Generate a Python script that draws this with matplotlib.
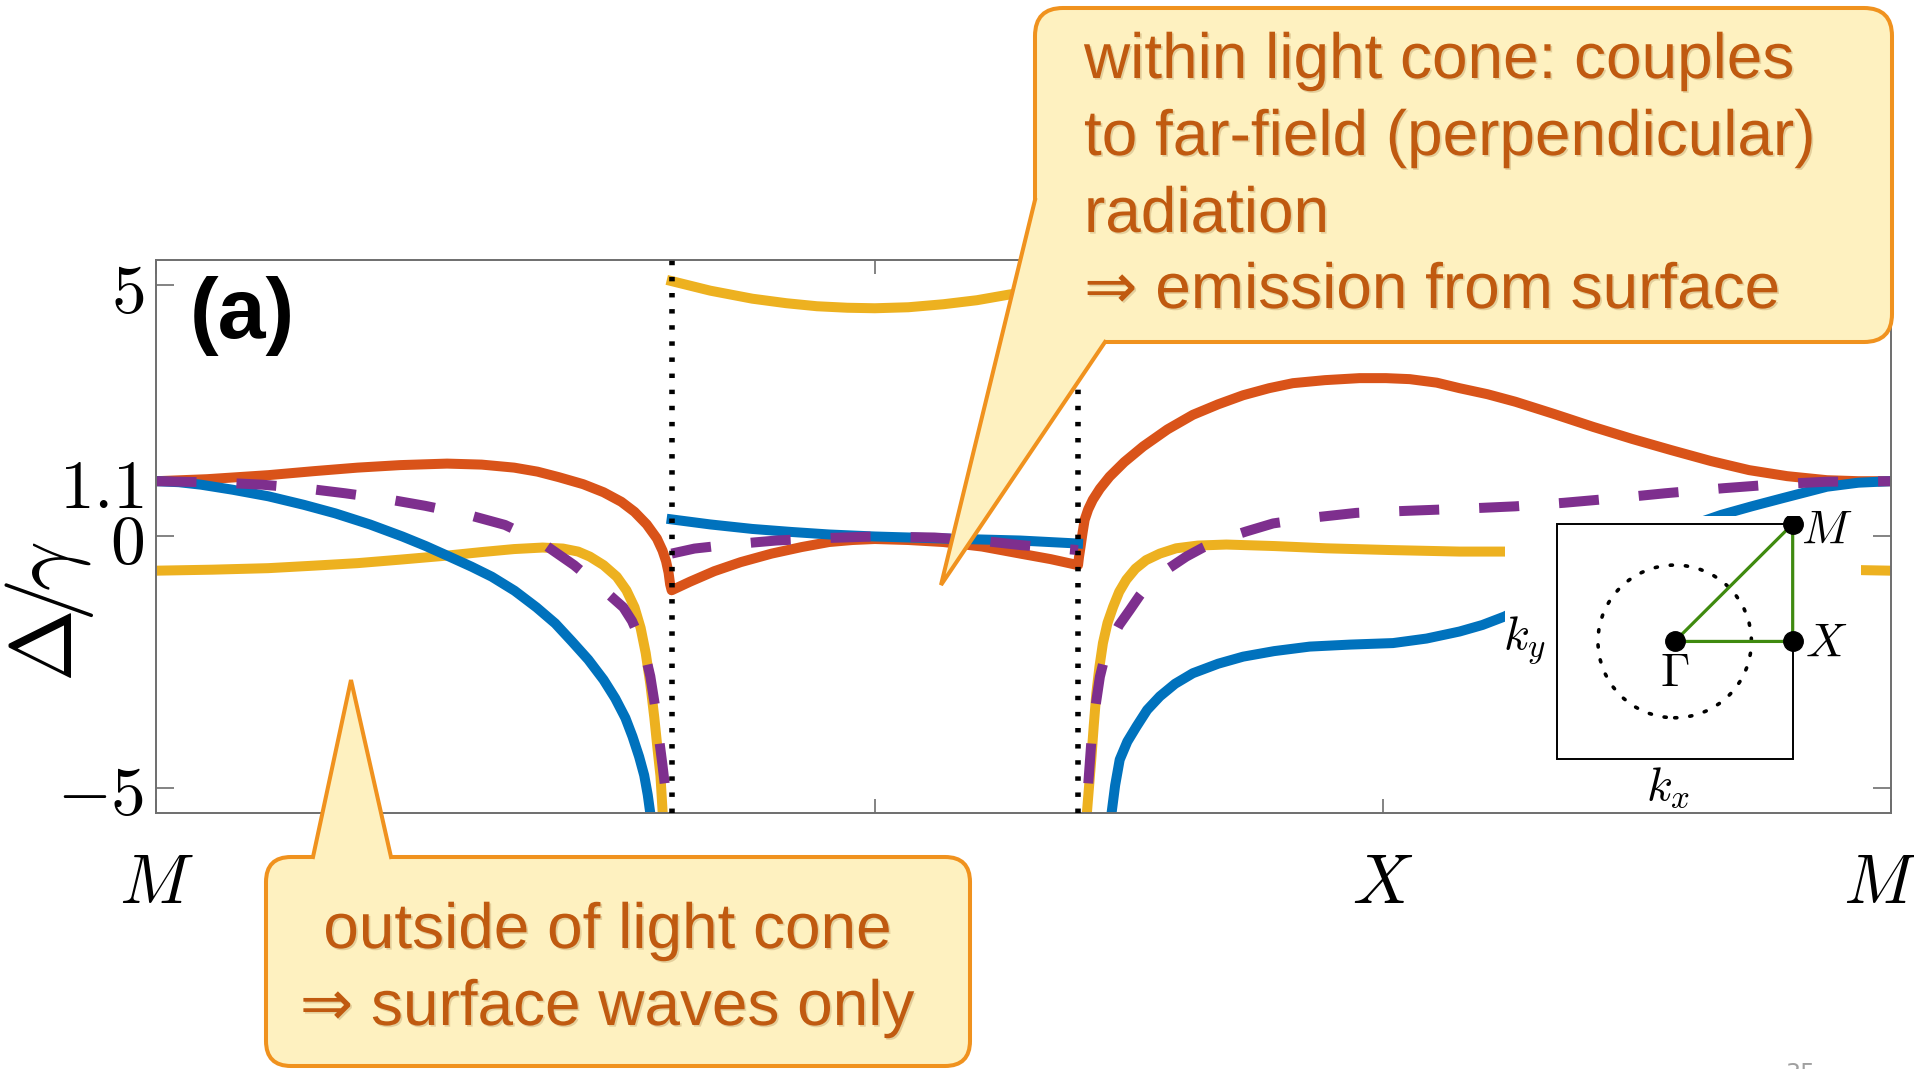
import numpy as np
import matplotlib
matplotlib.use('Agg')
import matplotlib.pyplot as plt
import matplotlib.transforms as mtransforms
from matplotlib.patches import FancyBboxPatch, Polygon, Rectangle, Circle
from matplotlib import patheffects

plt.rcParams['mathtext.fontset'] = 'cm'

# ---------------- band structure ----------------
# k along M -> Gamma -> X -> M (units of pi/a), Delta/gamma on y
k_gamma = np.sqrt(2)
k_xpt = np.sqrt(2) + 1
k_end = np.sqrt(2) + 2
k_light = 0.4

tick_pos = [0, k_gamma, k_xpt, k_end]
tick_names = ['$M$', r'$\Gamma$', '$X$', '$M$']
ytick_pos = [-5, 0, 1.1, 5]
ytick_names = ['$-5$', '$0$', '$1.1$', '$5$']

nan = np.nan

red_k = [0, 0.1, 0.22, 0.31, 0.396, 0.48, 0.572, 0.64, 0.704, 0.75, 0.792, 0.84, 0.88, 0.915,
         0.941, 0.965, 0.985, 0.996, 1.003, 1.008, 1.011, 1.014,
         1.05, 1.098, 1.15, 1.211, 1.27, 1.324, 1.37, 1.414, 1.48, 1.549, 1.625, 1.7, 1.76, 1.814,
         1.816, 1.819, 1.823, 1.827, 1.834, 1.843, 1.857, 1.876, 1.905, 1.942, 1.99, 2.040,
         2.09, 2.139, 2.19, 2.237, 2.30, 2.368, 2.42, 2.467, 2.52, 2.565, 2.62, 2.675, 2.75,
         2.828, 2.905, 2.981, 3.06, 3.135, 3.21, 3.288, 3.35, 3.414]
red_d = [1.1, 1.14, 1.22, 1.3, 1.37, 1.42, 1.45, 1.43, 1.37, 1.29, 1.18, 1.04, 0.88, 0.69,
         0.49, 0.24, -0.04, -0.28, -0.49, -0.72, -0.95, -1.07,
         -0.9, -0.69, -0.51, -0.34, -0.21, -0.11, -0.07, -0.05, -0.07, -0.11, -0.2, -0.34, -0.45, -0.57,
         -0.4, -0.2, 0.08, 0.33, 0.54, 0.73, 0.95, 1.19, 1.48, 1.79, 2.13, 2.42,
         2.63, 2.81, 2.95, 3.05, 3.11, 3.15, 3.15, 3.13, 3.06, 2.95, 2.83, 2.68, 2.44,
         2.18, 1.94, 1.72, 1.5, 1.32, 1.2, 1.12, 1.1, 1.1]

yellow_k = [0, 0.11, 0.22, 0.31, 0.396, 0.48, 0.572, 0.64, 0.704, 0.76, 0.8, 0.83, 0.853, 0.88,
            0.906, 0.925, 0.941, 0.953, 0.963, 0.972, 0.98, 0.986, 0.992, 0.997, 1.002, nan,
            1.014, 1.09, 1.173, 1.24, 1.3, 1.36, 1.414, 1.48, 1.549, 1.615, 1.677, 1.75, 1.814, nan,
            1.826, 1.833, 1.840, 1.845, 1.850, 1.856, 1.863, 1.872, 1.883, 1.895, 1.909, 1.927,
            1.948, 1.975, 2.007, 2.05, 2.106, 2.2, 2.303, 2.43, 2.565, 2.654,
            2.8, 3.0, 3.2, 3.36, 3.414]
yellow_d = [-0.68, -0.66, -0.63, -0.58, -0.53, -0.46, -0.38, -0.31, -0.25, -0.22, -0.24, -0.3, -0.4, -0.57,
            -0.8, -1.07, -1.41, -1.82, -2.32, -2.93, -3.61, -4.2, -4.76, -5.6, -6.5, nan,
            5.08, 4.89, 4.73, 4.64, 4.58, 4.55, 4.54, 4.56, 4.62, 4.7, 4.81, 4.93, 5.05, nan,
            -6.2, -5.3, -4.44, -3.75, -3.12, -2.6, -2.12, -1.72, -1.40, -1.1, -0.86, -0.64,
            -0.47, -0.34, -0.235, -0.18, -0.16, -0.19, -0.235, -0.27, -0.30, -0.30,
            -0.38, -0.5, -0.62, -0.67, -0.68]

blue_k = [0, 0.044, 0.088, 0.15, 0.22, 0.29, 0.352, 0.42, 0.484, 0.53, 0.572, 0.62, 0.66, 0.705,
          0.748, 0.785, 0.818, 0.85, 0.88, 0.903, 0.923, 0.937, 0.95, 0.96, 0.967, 0.976, nan,
          1.014, 1.09, 1.173, 1.25, 1.324, 1.414, 1.549, 1.7, 1.814, nan,
          1.874, 1.880, 1.887, 1.896, 1.911, 1.929, 1.95, 1.975, 2.005, 2.040, 2.09, 2.139,
          2.2, 2.270, 2.35, 2.434, 2.50, 2.565, 2.61, 2.654,
          2.75, 2.9, 3.0, 3.08, 3.14, 3.2, 3.288, 3.35, 3.414]
blue_d = [1.1, 1.08, 1.03, 0.93, 0.8, 0.63, 0.46, 0.24, 0.0, -0.19, -0.38, -0.6, -0.8, -1.08,
          -1.41, -1.73, -2.09, -2.45, -2.85, -3.22, -3.61, -3.98, -4.38, -4.75, -5.14, -5.8, nan,
          0.34, 0.24, 0.15, 0.09, 0.04, 0.0, -0.04, -0.08, -0.14, nan,
          -6.0, -5.5, -4.95, -4.44, -4.08, -3.78, -3.45, -3.18, -2.93, -2.72, -2.53, -2.39,
          -2.28, -2.19, -2.15, -2.12, -2.03, -1.89, -1.76, -1.59,
          -1.1, -0.3, 0.15, 0.43, 0.6, 0.76, 0.99, 1.07, 1.1]

purple_k = [0, 0.048, 0.13, 0.209, 0.29, 0.371, 0.45, 0.529, 0.61, 0.686, 0.755, 0.822, 0.87,
            0.919, 0.936, 0.95, 0.962, 0.972, 0.981, 0.989, 0.996, 1.003, 1.008, nan,
            1.014, 1.059, 1.14, 1.22, 1.32, 1.414, 1.531, 1.62, 1.70, 1.814, nan,
            1.826, 1.830, 1.840, 1.848, 1.857, 1.866, 1.876, 1.895, 1.916, 1.935, 1.955, 1.99,
            2.027, 2.06, 2.093, 2.145, 2.198, 2.28, 2.362, 2.46, 2.565, 2.675, 2.77, 2.86,
            2.97, 3.084, 3.19, 3.288, 3.414]
purple_d = [1.1, 1.09, 1.07, 1.03, 0.96, 0.86, 0.75, 0.61, 0.44, 0.23, -0.1, -0.57, -0.97,
            -1.41, -1.68, -2.0, -2.35, -2.78, -3.35, -4.0, -4.55, -5.14, -6.0, nan,
            -0.34, -0.24, -0.15, -0.08, -0.03, 0.0, -0.02, -0.08, -0.17, -0.27, nan,
            -6.5, -5.5, -4.1, -3.4, -2.79, -2.42, -2.12, -1.76, -1.46, -1.18, -0.93, -0.65,
            -0.40, -0.22, -0.07, 0.1, 0.26, 0.38, 0.47, 0.51, 0.55, 0.6, 0.67, 0.75,
            0.86, 0.96, 1.04, 1.09, 1.1]

top_lines = ['within light cone: couples', 'to far-field (perpendicular)', 'radiation',
             '\u21d2 emission from surface']
bottom_lines = ['outside of light cone', '\u21d2 surface waves only']

# ---------------- figure ----------------
fig = plt.figure(figsize=(19.15, 10.69), dpi=100)
ax = fig.add_axes([0.08172, 0.23948, 0.90574, 0.51731])

lw = 7.2
ax.plot(red_k, red_d, color='#D95319', lw=lw)
ax.plot(yellow_k, yellow_d, color='#EDB120', lw=lw)
ax.plot(blue_k, blue_d, color='#0072BD', lw=lw)
ax.plot(purple_k, purple_d, color='#7E2F8E', lw=lw, ls=(0, (4.0, 4.0)))

# light lines
for kk in (k_gamma - k_light, k_gamma + k_light):
    ax.axvline(kk, color='black', lw=4.0, ls=(0, (0.8, 2.1)), zorder=3)

ax.set_xlim(0, k_end)
ax.set_ylim(-5.5, 5.5)
ax.set_xticks(tick_pos)
ax.set_xticklabels(tick_names)
ax.set_yticks(ytick_pos)
ax.set_yticklabels(ytick_names)
for s in ax.spines.values():
    s.set_color('#6e6e6e')
    s.set_linewidth(1.4)
ax.tick_params(which='both', direction='in', top=True, right=True, color='#6e6e6e',
               width=1.2, labelsize=50)
ax.tick_params(axis='x', length=10, pad=27)
ax.tick_params(axis='y', length=13, pad=9)

# last M label sits a little inside the picture edge
lab = ax.get_xticklabels()[-1]
lab.set_transform(lab.get_transform() + mtransforms.ScaledTranslation(-0.11, 0, fig.dpi_scale_trans))

ax.set_ylabel(r'$\Delta\!/\!\gamma$', fontsize=63)
ax.yaxis.set_label_coords(-0.035, 0.363)

ax.text(0.0193, 0.8987, '(a)', transform=ax.transAxes, ha='left', va='center',
        fontsize=62, fontweight='bold', family='Liberation Sans')

# ---------------- Brillouin zone inset ----------------
axi = fig.add_axes([0.7861, 0.241, 0.18595, 0.2763])
axi.set_xlim(-1.4347, 1.583)
axi.set_ylim(-1.447, 1.068)
axi.set_xticks([])
axi.set_yticks([])
for s in axi.spines.values():
    s.set_visible(False)
axi.add_patch(Rectangle((-1, -1), 2, 2, fill=False, ec='black', lw=1.4))
axi.add_patch(Circle((0, 0), 0.65, fill=False, ec='black', lw=2.6, ls=(0, (0.6, 3.6)),
                     capstyle='round'))
axi.plot([0, 1, 1, 0], [0, 0, 1, 0], color='#3f8a0f', lw=2.3)
axi.plot([0, 1, 1], [0, 0, 1], 'o', color='black', ms=14)
inset_fs = 34
axi.text(1.29, 0.95, '$M$', fontsize=inset_fs, ha='center', va='center')
axi.text(1.28, -0.02, '$X$', fontsize=inset_fs, ha='center', va='center')
axi.text(0.0, -0.27, r'$\Gamma$', fontsize=inset_fs, ha='center', va='center')
axi.text(-1.27, 0.0, '$k_y$', fontsize=inset_fs, ha='center', va='center')
axi.text(-0.06, -1.24, '$k_x$', fontsize=inset_fs, ha='center', va='center')

# ---------------- callouts (pixel overlay) ----------------
ov = fig.add_axes([0, 0, 1, 1], zorder=10)
ov.set_xlim(0, 1915)
ov.set_ylim(1069, 0)
ov.axis('off')

fill_c = '#FEF1C0'
edge_c = '#F0921E'
text_c = '#C05A10'
blw = 2.9


def callout(x0, y0, x1, y1, r, tail_line, tail_fill):
    ov.add_patch(FancyBboxPatch((x0, y0), x1 - x0, y1 - y0,
                                boxstyle=f'round,pad=0,rounding_size={r}',
                                fc=fill_c, ec=edge_c, lw=blw))
    ov.add_patch(Polygon(tail_fill, closed=True, fc=fill_c, ec='none'))
    xs, ys = zip(*tail_line)
    ov.plot(xs, ys, color=edge_c, lw=blw, solid_joinstyle='miter')


callout(1035, 8, 1892, 342, 28,
        [(1035, 200), (941, 585), (1105, 342)],
        [(1035, 200), (941, 585), (1105, 342), (1105, 310), (1070, 310), (1070, 200)])
callout(266, 857, 970, 1066, 25,
        [(313, 857), (351, 680), (391, 857)],
        [(313, 857), (351, 680), (391, 857), (391, 875), (313, 875)])

shadow = [patheffects.withSimplePatchShadow(offset=(1.2, -1.2), shadow_rgbFace='#7a4a10', alpha=0.2)]
fam = ['Liberation Sans', 'DejaVu Sans']
for line, yb in zip(top_lines, [78, 155, 232, 308]):
    ov.text(1084, yb, line, ha='left', va='baseline', fontsize=46, color=text_c,
            family=fam, path_effects=shadow)
for line, yb in zip(bottom_lines, [948, 1025]):
    ov.text(607, yb, line, ha='center', va='baseline', fontsize=46, color=text_c,
            family=fam, path_effects=shadow)

ov.text(1800, 1062, '35', ha='center', va='top', fontsize=17, color='#a0a0a0')

fig.savefig('out.png', dpi=100)
